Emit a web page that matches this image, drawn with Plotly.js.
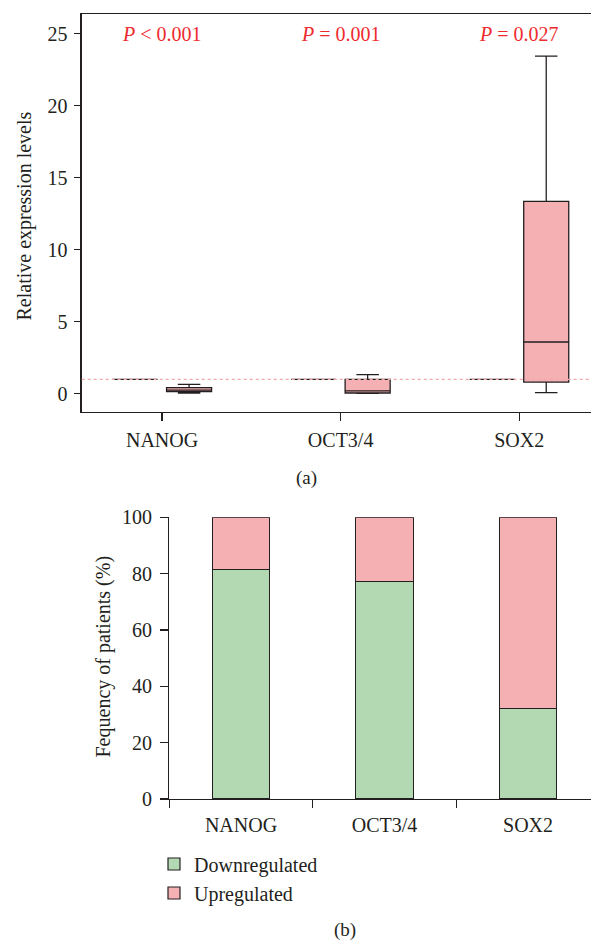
<!DOCTYPE html>
<html>
<head>
<meta charset="utf-8">
<script src="https://cdn.plot.ly/plotly-3.0.1.min.js"></script>
<style>
  html, body { margin: 0; padding: 0; background: #fff; }
  #chart { width: 591px; height: 940px; }
</style>
</head>
<body>
<div id="chart"></div>
<script>
// ---- Data ----
const genes = ["NANOG", "OCT3/4", "SOX2"];

// Panel (a): relative expression levels (box statistics)
const controlLevel = [1, 1, 1];
const patientLowerFence = [0.05, 0.02, 0.07];
const patientQ1 = [0.14, 0.05, 0.81];
const patientMedian = [0.25, 0.2, 3.59];
const patientQ3 = [0.42, 1.0, 13.36];
const patientUpperFence = [0.65, 1.32, 23.45];
const pLabels = ["<i>P</i> &lt; 0.001", "<i>P</i> = 0.001", "<i>P</i> = 0.027"];
const pLabelLevel = 25;
const referenceLevel = 1;

// Panel (b): frequency of patients (%)
const downregulated = [81.6, 77.1, 32.1];
const upregulated = [18.4, 22.9, 67.9];
const seriesNames = ["Downregulated", "Upregulated"];

// ---- Styles ----
const FONT = "Liberation Serif, Times New Roman, serif";
const INK = "#231F20";
const PINK = "#F5B0B3";
const GREEN = "#B3D9B2";
const RED = "#EE2A2F";
const W = 591, H = 940;

const traces = [
  {
    type: "box", name: "Control", x: genes,
    q1: controlLevel, median: controlLevel, q3: controlLevel,
    lowerfence: controlLevel, upperfence: controlLevel,
    fillcolor: PINK, line: { color: INK, width: 1.3 },
    xaxis: "x", yaxis: "y", showlegend: false, hoverinfo: "skip"
  },
  {
    type: "box", name: "Patients", x: genes,
    q1: patientQ1, median: patientMedian, q3: patientQ3,
    lowerfence: patientLowerFence, upperfence: patientUpperFence,
    fillcolor: PINK, line: { color: INK, width: 1.3 }, whiskerwidth: 0.5,
    xaxis: "x", yaxis: "y", showlegend: false, hoverinfo: "skip"
  },
  {
    type: "bar", name: seriesNames[0], x: genes, y: downregulated,
    marker: { color: GREEN, line: { color: INK, width: 1.2 } },
    xaxis: "x2", yaxis: "y2"
  },
  {
    type: "bar", name: seriesNames[1], x: genes, y: upregulated,
    marker: { color: PINK, line: { color: INK, width: 1.2 } },
    xaxis: "x2", yaxis: "y2"
  }
];

const px = v => v / W;
const py = v => 1 - v / H;

const tickFont = { family: FONT, size: 20, color: INK };

const annotations = genes.map((g, i) => ({
  xref: "x", yref: "y", x: g, y: pLabelLevel, text: pLabels[i],
  showarrow: false, font: { family: FONT, size: 20, color: RED },
  xanchor: "center", yanchor: "middle"
}));
const paperText = (x, y, text, size, angle) => ({
  xref: "paper", yref: "paper", x: px(x), y: py(y), text: text,
  textangle: angle || 0, showarrow: false, xanchor: "center", yanchor: "middle",
  font: { family: FONT, size: size, color: INK }
});
annotations.push(
  paperText(23.5, 216, "Relative expression levels", 20, -90),
  paperText(102.5, 657, "Fequency of patients (%)", 20, -90),
  paperText(306, 478, "(a)", 19),
  paperText(345, 930, "(b)", 19)
);

const layout = {
  width: W, height: H,
  margin: { l: 0, r: 0, t: 0, b: 0 },
  paper_bgcolor: "#fff", plot_bgcolor: "#fff",
  font: { family: FONT, color: INK },
  boxmode: "group", boxgap: 0.395, boxgroupgap: 0.166,
  barmode: "stack", bargap: 0.6,
  xaxis: {
    domain: [px(81.7), 1], range: [-0.45, 2.402], type: "category",
    showline: true, linecolor: INK, linewidth: 1.3, mirror: true,
    ticks: "outside", ticklen: 8, tickcolor: INK, tickwidth: 1.3,
    ticklabelstandoff: 2,
    tickfont: tickFont, showgrid: false, zeroline: false, fixedrange: true
  },
  yaxis: {
    domain: [py(412), py(14)], range: [-1.27, 26.37],
    tickvals: [0, 5, 10, 15, 20, 25],
    showline: true, linecolor: INK, linewidth: 1.3,
    ticks: "outside", ticklen: 6, tickcolor: INK, tickwidth: 1.3,
    ticklabelstandoff: 3,
    tickfont: tickFont, showgrid: false, zeroline: false, fixedrange: true
  },
  xaxis2: {
    domain: [px(169.3), 1], range: [-0.5, 2.439], type: "category", anchor: "y2",
    tickson: "boundaries",
    showline: true, linecolor: INK, linewidth: 1.3,
    ticks: "outside", ticklen: 8, tickcolor: INK, tickwidth: 1.3,
    ticklabelstandoff: 8,
    tickfont: tickFont, showgrid: false, zeroline: false, fixedrange: true
  },
  yaxis2: {
    domain: [py(799), py(517.3)], range: [0, 100], anchor: "x2",
    tickvals: [0, 20, 40, 60, 80, 100],
    showline: true, linecolor: INK, linewidth: 1.3,
    ticks: "outside", ticklen: 8, tickcolor: INK, tickwidth: 1.3,
    ticklabelstandoff: 4,
    tickfont: tickFont, showgrid: false, zeroline: false, fixedrange: true
  },
  shapes: [{
    type: "line", xref: "x domain", yref: "y", x0: 0, x1: 1,
    y0: referenceLevel, y1: referenceLevel, layer: "above",
    line: { color: "#F4A6AC", width: 1.2, dash: "dot" }
  }],
  annotations: annotations,
  showlegend: true,
  legend: {
    x: px(154), y: py(844.5), xanchor: "left", yanchor: "top",
    traceorder: "normal", bgcolor: "rgba(0,0,0,0)",
    font: { family: FONT, size: 20, color: INK },
    tracegroupgap: 0
  }
};

Plotly.newPlot("chart", traces, layout, { displayModeBar: false, staticPlot: true });
</script>
</body>
</html>
